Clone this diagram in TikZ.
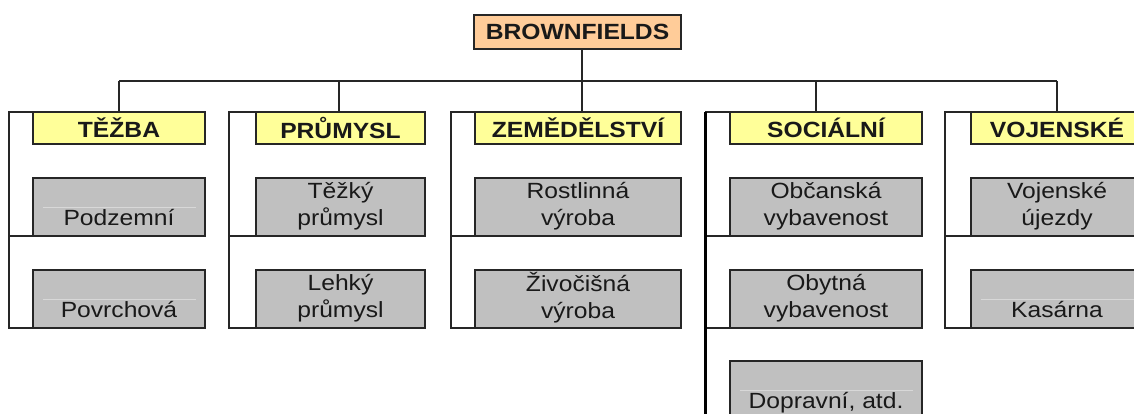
\documentclass[tikz,border=0pt]{standalone}
\usepackage{fontspec}
\setmainfont[FakeStretch=1.12]{Liberation Sans}
\definecolor{hdrc}{RGB}{255,255,153}
\definecolor{rootc}{RGB}{255,204,153}
\definecolor{boxg}{RGB}{192,192,192}
\definecolor{boxl}{RGB}{216,216,216}
\begin{document}
\begin{tikzpicture}[x=1pt,y=-1pt,
  base/.style={draw=black!85,line width=1.3pt,inner sep=0pt,outer sep=0pt,align=center,text=black!90,font=\fontsize{22}{27}\selectfont},
  rootbox/.style={base,fill=rootc,font=\bfseries\fontsize{22}{27}\selectfont,minimum height=34pt},
  hdrbox/.style={base,fill=hdrc,font=\bfseries\fontsize{22}{27}\selectfont,minimum height=32pt},
  itembox/.style={base,fill=boxg,minimum height=58pt},
  wire/.style={draw=black!85,line width=1.3pt},
  heavywire/.style={draw=black,line width=3pt},
  faint/.style={draw=boxl,line width=1pt}
]
\useasboundingbox (0,0) rectangle (1134,413);
\clip (0,0) rectangle (1134,413);

% root
\node[rootbox,minimum width=207pt] (root) at (577.5,32) {BROWNFIELDS};

% headers
\node[hdrbox,minimum width=172pt] (h1) at (119,128) {TĚŽBA};
\node[hdrbox,minimum width=169pt] (h2) at (340.5,128) {PRŮMYSL};
\node[hdrbox,minimum width=206pt] (h3) at (578,128) {ZEMĚDĚLSTVÍ};
\node[hdrbox,minimum width=192pt] (h4) at (826,128) {SOCIÁLNÍ};
\node[hdrbox,minimum width=172pt] (h5) at (1057,128) {VOJENSKÉ};

% items
\node[itembox,minimum width=172pt] (c11) at (119,207) {\strut\\\strut Podzemní};
\node[itembox,minimum width=172pt] (c12) at (119,299) {\strut\\\strut Povrchová};
\node[itembox,minimum width=169pt] (c21) at (340.5,207) {\strut Těžký\\\strut průmysl};
\node[itembox,minimum width=169pt] (c22) at (340.5,299) {\strut Lehký\\\strut průmysl};
\node[itembox,minimum width=206pt] (c31) at (578,207) {\strut Rostlinná\\\strut výroba};
\node[itembox,minimum width=206pt] (c32) at (578,299) {\strut Živočišná\\\strut výroba};
\node[itembox,minimum width=192pt] (c41) at (826,207) {\strut Občanská\\\strut vybavenost};
\node[itembox,minimum width=192pt] (c42) at (826,299) {\strut Obytná\\\strut vybavenost};
\node[itembox,minimum width=192pt] (c43) at (826,390) {\strut\\\strut Dopravní, atd.};
\node[itembox,minimum width=172pt] (c51) at (1057,207) {\strut Vojenské\\\strut újezdy};
\node[itembox,minimum width=172pt] (c52) at (1057,299) {\strut\\\strut Kasárna};

% faint inner lines of single-line boxes
\foreach \n in {c11,c12,c43,c52}{
  \draw[faint] ([xshift=10pt]\n.west) -- ([xshift=-9pt]\n.east);
}

% bus junctions
\coordinate (j1) at (119,81);
\coordinate (j2) at (339,81);
\coordinate (j3) at (582,81);
\coordinate (j4) at (816,81);
\coordinate (j5) at (1057,81);
\draw[wire] (j1) -- (j5);
\draw[wire] (j3 |- root.south) -- (j3 |- h3.north);
\draw[wire] (j1) -- (j1 |- h1.north);
\draw[wire] (j2) -- (j2 |- h2.north);
\draw[wire] (j4) -- (j4 |- h4.north);
\draw[wire] (j5) -- (j5 |- h5.north);

% spines
\coordinate (s1) at (9,112);
\coordinate (s2) at (229,112);
\coordinate (s3) at (451,112);
\coordinate (s4) at (705,112);
\coordinate (s4e) at (705,430);
\coordinate (s5) at (945,112);

\draw[wire] (h1.north west) -- (s1) |- (c12.south west);
\draw[wire] (s1 |- c11.south) -- (c11.south west);
\draw[wire] (h2.north west) -- (s2) |- (c22.south west);
\draw[wire] (s2 |- c21.south) -- (c21.south west);
\draw[wire] (h3.north west) -- (s3) |- (c32.south west);
\draw[wire] (s3 |- c31.south) -- (c31.south west);
\draw[wire] (h4.north west) -- (s4);
\draw[wire] (s4 |- c41.south) -- (c41.south west);
\draw[wire] (s4 |- c42.south) -- (c42.south west);
\draw[heavywire] (s4) -- (s4e);
\draw[wire] (h5.north west) -- (s5) |- (c52.south west);
\draw[wire] (s5 |- c51.south) -- (c51.south west);
\end{tikzpicture}
\end{document}
